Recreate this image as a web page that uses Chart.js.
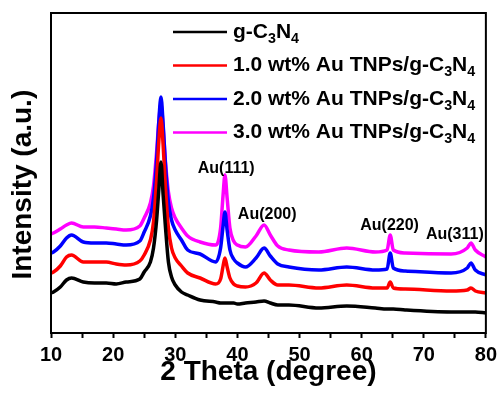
<!DOCTYPE html>
<html>
<head>
<meta charset="utf-8">
<script src="https://cdn.jsdelivr.net/npm/chart.js@4.4.0/dist/chart.umd.min.js"></script>
<style>
  html, body { margin: 0; padding: 0; background: #fff; }
  #wrap { width: 502px; height: 400px; position: relative; }
</style>
</head>
<body>
<div id="wrap"><canvas id="xrd"></canvas></div>
<script>
// 2 theta positions (degree) shared by all patterns
const twoTheta = [10, 10.4, 11.5, 12.5, 13.3, 15.2, 17, 18.9, 20.5, 22.1,
  24.3, 25, 26, 26.5, 27, 27.35, 27.7, 28.05, 28.4, 28.9, 29.4, 30, 31, 32,
  34, 36.5, 37.3, 37.7, 38, 38.35, 38.8, 39.4, 40,
  41.3, 43, 44.3, 45.3, 46.5, 48.3, 53.1, 57.6, 62.2, 64.1, 64.6, 65.1, 67, 74.4, 77, 77.6, 78.3, 80];

// intensities (a.u., stacked with offsets as in the figure)
const gC3N4 = [400, 410, 460, 530, 550, 510, 500, 500, 490, 510,
  540, 610, 710, 850, 1130, 1430, 1710, 1380, 1080, 710, 560, 480, 410, 380,
  330, 310, 300, 300, 300, 300, 300, 300, 290,
  300, 310, 320, 300, 280, 280, 250, 270, 250, 240, 240, 240, 230, 210, 210, 210, 210, 200];
const au10 = [600, 610, 670, 760, 780, 710, 710, 710, 690, 680,
  720, 780, 930, 1110, 1530, 1910, 2150, 1880, 1480, 1050, 850, 750, 670, 600,
  550, 490, 540, 670, 750, 660, 550, 490, 470,
  460, 500, 600, 530, 480, 480, 450, 480, 450, 450, 510, 450, 440, 420, 430, 450, 420, 400];
const au20 = [800, 810, 870, 950, 980, 910, 900, 900, 890, 880,
  920, 1010, 1170, 1350, 1730, 2110, 2360, 2090, 1710, 1310, 1130, 1030, 930, 830,
  790, 710, 850, 1070, 1210, 1030, 830, 740, 700,
  660, 750, 850, 770, 690, 660, 630, 660, 630, 640, 800, 650, 620, 600, 650, 700, 630, 580];
const au30 = [990, 1000, 1040, 1080, 1100, 1060, 1060, 1050, 1040, 1030,
  1070, 1150, 1300, 1470, 1810, 2110, 2290, 2060, 1730, 1410, 1250, 1150, 1050, 970,
  910, 880, 1050, 1380, 1580, 1350, 1050, 920, 880,
  860, 970, 1080, 980, 870, 830, 810, 850, 810, 830, 980, 830, 800, 790, 850, 900, 830, 760];

const seriesNames = ["g-C_3N_4", "1.0 wt% Au TNPs/g-C_3N_4", "2.0 wt% Au TNPs/g-C_3N_4", "3.0 wt% Au TNPs/g-C_3N_4"];
const seriesColors = ["#000000", "#ff0000", "#0000ff", "#ff00ff"];
const seriesData = [gC3N4, au10, au20, au30];

// peak labels: [text, 2theta, intensity]
const peakLabels = [
  ["Au(111)", 38.2, 1640],
  ["Au(200)", 44.8, 1180],
  ["Au(220)", 64.5, 1070],
  ["Au(311)", 75.0, 980],
];

const FONT = "'Liberation Sans', Arial, sans-serif";

// draws "g-C_3N_4" style text with subscripts
function drawRich(ctx, str, x, y, size) {
  const parts = str.split(/_(\d)/);
  let cx = x;
  parts.forEach((p, i) => {
    if (!p) return;
    const sub = i % 2 === 1;
    const s = sub ? size * 0.68 : size;
    ctx.font = "bold " + s + "px " + FONT;
    ctx.fillText(p, cx, sub ? y + size * 0.32 : y);
    cx += ctx.measureText(p).width;
  });
}

const decorPlugin = {
  id: "decor",
  afterDatasetsDraw(chart) {
    const ctx = chart.ctx;
    const a = chart.chartArea;
    ctx.save();
    ctx.strokeStyle = "#000";
    ctx.lineWidth = 2;
    ctx.strokeRect(a.left, a.top, a.right - a.left, a.bottom - a.top);

    // legend
    ctx.textBaseline = "middle";
    ctx.textAlign = "left";
    ctx.fillStyle = "#000";
    seriesNames.forEach((name, i) => {
      const y = 32 + i * 33.5;
      ctx.strokeStyle = seriesColors[i];
      ctx.lineWidth = 2.5;
      ctx.beginPath();
      ctx.moveTo(173, y);
      ctx.lineTo(227, y);
      ctx.stroke();
      drawRich(ctx, name, 233, y, 21);
    });

    // peak labels
    const xs = chart.scales.x, ys = chart.scales.y;
    ctx.textAlign = "center";
    ctx.font = "bold 16px " + FONT;
    peakLabels.forEach(([t, px, py]) => {
      ctx.fillText(t, xs.getPixelForValue(px), ys.getPixelForValue(py));
    });
    ctx.restore();
  }
};

new Chart(document.getElementById("xrd"), {
  type: "line",
  data: {
    datasets: seriesData.map((arr, i) => ({
      label: seriesNames[i],
      data: twoTheta.map((t, j) => ({ x: t, y: arr[j] })),
      borderColor: seriesColors[i],
      backgroundColor: seriesColors[i],
      borderWidth: 3.5,
      pointRadius: 0,
      cubicInterpolationMode: "monotone",
    })),
  },
  options: {
    responsive: true,
    maintainAspectRatio: false,
    animation: false,
    layout: { padding: { top: 13, right: 14, left: 0, bottom: 0 } },
    plugins: { legend: { display: false }, tooltip: { enabled: false } },
    scales: {
      x: {
        type: "linear",
        min: 10,
        max: 80,
        border: { display: false },
        grid: { display: true, drawOnChartArea: false, drawTicks: true, tickLength: 5, tickWidth: 2, tickColor: "#000" },
        ticks: {
          stepSize: 5,
          padding: 5,
          color: "#000",
          maxRotation: 0,
          autoSkip: false,
          font: { family: FONT, size: 20, weight: "bold" },
          callback: (v) => (v % 10 === 0 ? v : ""),
        },
        title: {
          display: true,
          text: "2 Theta (degree)",
          color: "#000",
          font: { family: FONT, size: 28, weight: "bold" },
          padding: { top: 0, bottom: 11 },
        },
        afterFit: (s) => { s.height = 67; },
      },
      y: {
        min: 0,
        max: 3200,
        border: { display: false },
        grid: { display: false },
        ticks: { display: false },
        title: {
          display: true,
          // trailing spaces nudge the rotated title a little lower, as in the original
          text: "Intensity (a.u.)   ",
          color: "#000",
          font: { family: FONT, size: 28, weight: "bold" },
          padding: { top: 6, bottom: 0 },
        },
        afterFit: (s) => { s.width = 51; },
      },
    },
  },
  plugins: [decorPlugin],
});
</script>
</body>
</html>
